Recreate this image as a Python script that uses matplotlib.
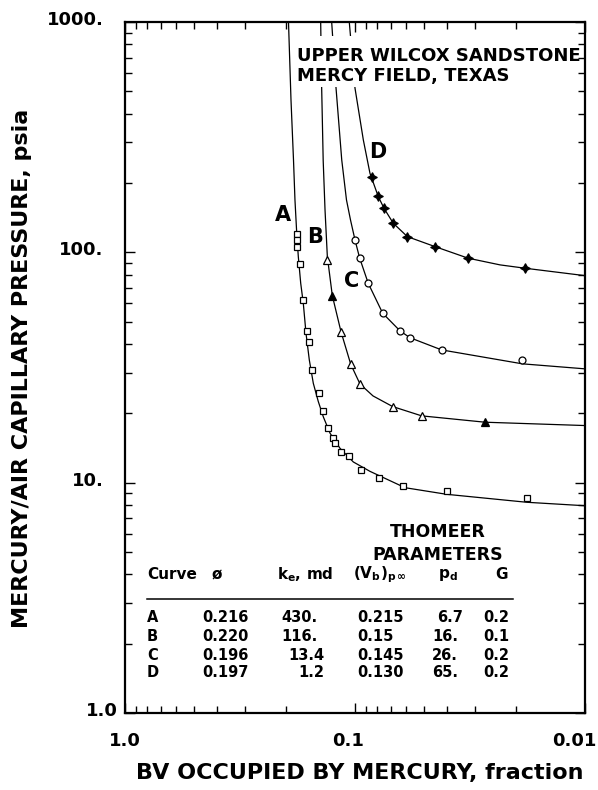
import matplotlib.pyplot as plt
from matplotlib.patches import Rectangle
from matplotlib.ticker import NullFormatter
from matplotlib.transforms import ScaledTranslation

# fitted curves (BV occupied fraction, psia)
a_line_x = [0.1946, 0.1898, 0.1851, 0.1824, 0.1792, 0.1764, 0.1722, 0.1678, 0.1633, 0.1580,
            0.1518, 0.1444, 0.1373, 0.1284, 0.1162, 0.1017, 0.0861, 0.0606, 0.0399,
            0.0179, 0.0100]
a_line_y = [1000, 459, 252, 168.8, 121.0, 95.8, 73.4, 60.1, 44.5, 34.1,
            27.0, 22.5, 19.3, 16.4, 14.1, 12.3, 11.2, 9.51, 8.90,
            8.22, 7.94]

b_line_x = [0.1410, 0.1396, 0.1375, 0.1350, 0.1319, 0.1255, 0.1151, 0.1044, 0.0951, 0.0835,
            0.0686, 0.0513, 0.0272, 0.0100]
b_line_y = [1000, 516, 250, 152.8, 95.8, 64.9, 45.3, 32.7, 26.8, 23.8,
            21.4, 19.5, 18.3, 17.7]

c_line_x = [0.1263, 0.1209, 0.1142, 0.1089, 0.1046, 0.1000, 0.0955, 0.0876, 0.0758, 0.0637,
            0.0577, 0.0420, 0.0187, 0.0100]
c_line_y = [1000, 516, 251.9, 168.8, 138.2, 113.2, 94.6, 73.4, 54.4, 45.6,
            42.6, 37.7, 32.8, 31.2]

d_line_x = [0.1059, 0.1000, 0.0920, 0.0861, 0.0792, 0.0748, 0.0682, 0.0592, 0.0449,
            0.0322, 0.0234, 0.0182, 0.0100]
d_line_y = [1000, 516, 307.6, 220.5, 174.5, 155.4, 133.8, 117.0, 105.9,
            94.3, 88.2, 85.3, 79.2]

# measured points
a_pts_x = [0.178, 0.178, 0.178, 0.173, 0.168, 0.161, 0.158, 0.154, 0.144, 0.138,
           0.131, 0.125, 0.122, 0.115, 0.106, 0.094, 0.079, 0.062, 0.040, 0.0179]
a_pts_y = [120, 113, 105, 88.8, 62.1, 45.7, 40.9, 30.9, 24.6, 20.5,
           17.3, 15.6, 14.9, 13.6, 13.0, 11.4, 10.5, 9.67, 9.20, 8.56]

b_pts_x = [0.1319, 0.1255, 0.1151, 0.1044, 0.0951, 0.0686, 0.0513, 0.0272]
b_pts_y = [92.7, 64.9, 45.3, 32.7, 26.8, 21.4, 19.5, 18.3]
b_filled = [False, True, False, False, False, False, False, True]

c_pts_x = [0.100, 0.0951, 0.0876, 0.0758, 0.0637, 0.0577, 0.0420, 0.0187]
c_pts_y = [113, 94.3, 73.4, 54.4, 45.6, 42.6, 37.7, 34.1]

d_pts_x = [0.0846, 0.0792, 0.0748, 0.0682, 0.0592, 0.0449, 0.0322, 0.0182]
d_pts_y = [212, 175, 155, 134, 117, 106, 94.3, 85.3]

curve_labels = ["A", "B", "C", "D"]
label_x = [0.2064, 0.1485, 0.1033, 0.0798]
label_y = [145, 117, 75, 274]

# Thomeer parameter table
tbl_curve = ["A", "B", "C", "D"]
tbl_phi = ["0.216", "0.220", "0.196", "0.197"]
tbl_k = ["430.", "116.", "13.4", "1.2"]
tbl_vb = ["0.215", "0.15", "0.145", "0.130"]
tbl_pd = ["6.7", "16.", "26.", "65."]
tbl_g = ["0.2", "0.1", "0.2", "0.2"]

plt.rcParams['font.family'] = 'DejaVu Sans'
plt.rcParams['font.weight'] = 'bold'
plt.rcParams['mathtext.default'] = 'bf'

fig = plt.figure(figsize=(5.98, 7.90), dpi=100)
ax = fig.add_axes([125/598, 77/790, 460/598, 691/790])
ax.set_xscale('log')
ax.set_yscale('log')
ax.set_xlim(1, 0.01)
ax.set_ylim(1, 1000)
ax.set_axisbelow(False)

lk = dict(color='black', lw=0.9, zorder=2)
ax.plot(a_line_x, a_line_y, **lk)
ax.plot(b_line_x, b_line_y, **lk)
ax.plot(c_line_x, c_line_y, **lk)
ax.plot(d_line_x, d_line_y, **lk)

ax.plot(a_pts_x, a_pts_y, ls='none', marker='s', ms=5, mfc='white', mec='black', mew=0.9, zorder=3)
bo_x = [x for x, f in zip(b_pts_x, b_filled) if not f]
bo_y = [y for y, f in zip(b_pts_y, b_filled) if not f]
bf_x = [x for x, f in zip(b_pts_x, b_filled) if f]
bf_y = [y for y, f in zip(b_pts_y, b_filled) if f]
ax.plot(bo_x, bo_y, ls='none', marker='^', ms=5.5, mfc='white', mec='black', mew=0.9, zorder=3)
ax.plot(bf_x, bf_y, ls='none', marker='^', ms=5.5, mfc='black', mec='black', mew=0.9, zorder=3)
ax.plot(c_pts_x, c_pts_y, ls='none', marker='o', ms=5, mfc='white', mec='black', mew=0.9, zorder=3)
ax.plot(d_pts_x, d_pts_y, ls='none', marker=(4, 1, 0), ms=7, mfc='black', mec='black', mew=0.8, zorder=3)

for t, x, y in zip(curve_labels, label_x, label_y):
    ax.text(x, y, t, fontsize=15, ha='center', va='center', zorder=4)

# white box behind the field title
ax.add_patch(Rectangle((0.37, 0.906), 0.62, 0.074, transform=ax.transAxes,
                       facecolor='white', edgecolor='none', zorder=2.2))
ax.text(0.373, 0.951, "UPPER WILCOX SANDSTONE", transform=ax.transAxes,
        fontsize=13, ha='left', va='center', zorder=4)
ax.text(0.373, 0.922, "MERCY FIELD, TEXAS", transform=ax.transAxes,
        fontsize=13, ha='left', va='center', zorder=4)

# table
ax.text(0.680, 0.262, "THOMEER", transform=ax.transAxes, fontsize=12.5, ha='center', va='center')
ax.text(0.680, 0.229, "PARAMETERS", transform=ax.transAxes, fontsize=12.5, ha='center', va='center')
hy = 0.2
ax.text(0.048, hy, "Curve", transform=ax.transAxes, fontsize=11, ha='left', va='center')
ax.text(0.200, hy, "ø", transform=ax.transAxes, fontsize=11, ha='center', va='center')
ax.text(0.330, hy, r"k$_{e}$, md", transform=ax.transAxes, fontsize=11, ha='left', va='center')
ax.text(0.496, hy, r"(V$_{b}$)$_{p\,\infty}$", transform=ax.transAxes, fontsize=11, ha='left', va='center')
ax.text(0.702, hy, r"p$_{d}$", transform=ax.transAxes, fontsize=11, ha='center', va='center')
ax.text(0.833, hy, "G", transform=ax.transAxes, fontsize=11, ha='right', va='center')
ax.plot([0.048, 0.843], [0.165, 0.165], transform=ax.transAxes, color='black', lw=1.1)

row_y = [0.1375, 0.1114, 0.0839, 0.0593]
for i, ry in enumerate(row_y):
    ax.text(0.048, ry, tbl_curve[i], transform=ax.transAxes, fontsize=10.5, ha='left', va='center')
    ax.text(0.268, ry, tbl_phi[i], transform=ax.transAxes, fontsize=10.5, ha='right', va='center')
    kx = 0.418 if tbl_k[i].endswith('.') else 0.433
    ax.text(kx, ry, tbl_k[i], transform=ax.transAxes, fontsize=10.5, ha='right', va='center')
    ax.text(0.504, ry, tbl_vb[i], transform=ax.transAxes, fontsize=10.5, ha='left', va='center')
    px = 0.735 if i == 0 else 0.724
    ax.text(px, ry, tbl_pd[i], transform=ax.transAxes, fontsize=10.5, ha='right', va='center')
    ax.text(0.778, ry, tbl_g[i], transform=ax.transAxes, fontsize=10.5, ha='left', va='center')

# axes styling
for s in ax.spines.values():
    s.set_linewidth(1.6)
ax.tick_params(which='both', direction='in', top=True, right=True, width=1, labelsize=13)
ax.tick_params(which='major', length=7)
ax.tick_params(which='minor', length=5)
ax.tick_params(axis='x', pad=13.5)
ax.tick_params(axis='y', pad=15.5)
ax.set_xticks([1, 0.1, 0.01], ['1.0', '0.1', '0.01'])
ax.set_yticks([1, 10, 100, 1000], ['1.0', '10.', '100.', '1000.'])
ax.xaxis.set_minor_formatter(NullFormatter())
ax.yaxis.set_minor_formatter(NullFormatter())

for lab, dx in zip(ax.get_xticklabels(), [0, -7, -11]):
    lab.set_transform(lab.get_transform() + ScaledTranslation(dx/100, 0, fig.dpi_scale_trans))
for lab, dx in zip(ax.get_yticklabels(), [14, 0, 0, 0]):
    lab.set_transform(lab.get_transform() + ScaledTranslation(dx/100, 4/100, fig.dpi_scale_trans))

fig.text(360/598, 1 - 773/790, "BV OCCUPIED BY MERCURY, fraction", fontsize=16,
         ha='center', va='center')
fig.text(22/598, 1 - 368/790, "MERCURY/AIR CAPILLARY PRESSURE, psia", fontsize=16,
         rotation=90, ha='center', va='center')

fig.savefig("out.png", dpi=100)
